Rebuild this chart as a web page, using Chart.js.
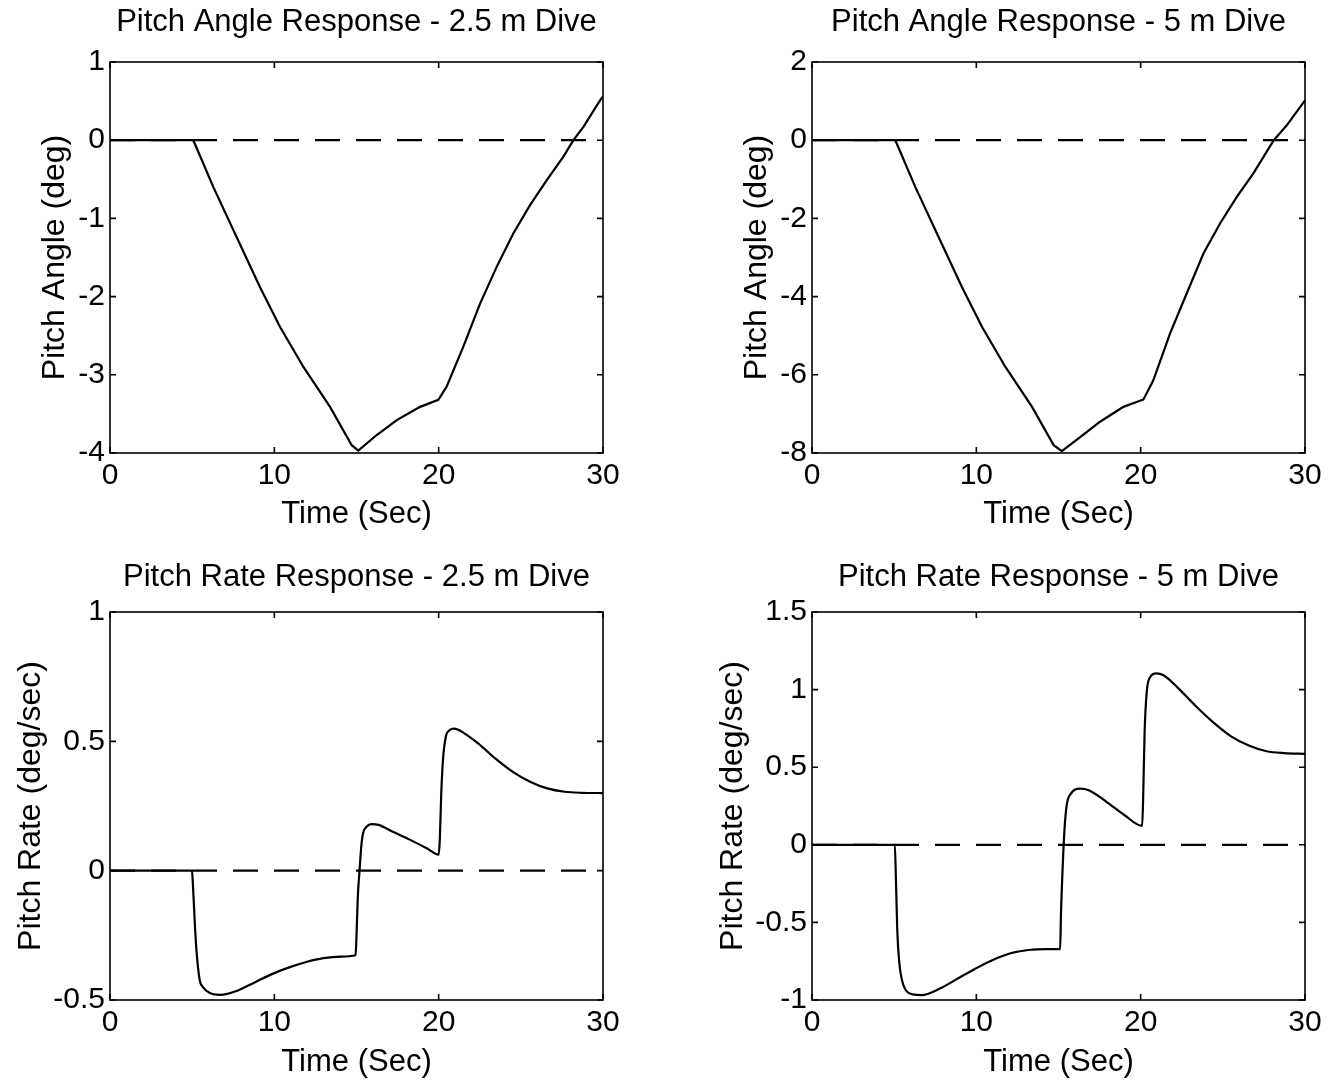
<!DOCTYPE html>
<html>
<head>
  <meta charset="utf-8">
  <title>Pitch Response</title>
  <script src="https://cdn.jsdelivr.net/npm/chart.js@4.4.1/dist/chart.umd.min.js"></script>
  <style>
    body { margin: 0; background: #ffffff; width: 1338px; height: 1083px; position: relative; overflow: hidden; }
    canvas { position: absolute; }
  </style>
</head>
<body>
  <canvas id="c1" width="669" height="541" style="left:0; top:0;"></canvas>
  <canvas id="c2" width="636" height="541" style="left:702px; top:0;"></canvas>
  <canvas id="c3" width="669" height="542" style="left:0; top:541px;"></canvas>
  <canvas id="c4" width="636" height="542" style="left:702px; top:541px;"></canvas>

  <script>
    // time axis
    let timeTicks = [0, 10, 20, 30];

    // reference line
    let zeroT = [0, 30];
    let zeroV = [0, 0];

    // pitch angle, 2.5 m dive
    let angle25T = [0, 5.07, 6.29, 7.71, 9.13, 10.35, 11.77, 13.39, 14.71, 15.11, 16.23, 17.45, 18.87, 19.98, 20.49, 21.5, 22.52, 23.53, 24.55, 25.56, 26.58, 27.59, 28.2, 28.81, 29.82, 30];
    let angle25V = [0, 0, -0.6, -1.24, -1.88, -2.39, -2.9, -3.41, -3.9, -3.97, -3.77, -3.58, -3.41, -3.32, -3.15, -2.64, -2.09, -1.62, -1.19, -0.83, -0.51, -0.21, 0, 0.17, 0.51, 0.56];
    let angle25Ticks = [-4, -3, -2, -1, 0, 1];

    // pitch angle, 5 m dive
    let angle5T = [0, 5.07, 6.29, 7.71, 9.13, 10.35, 11.77, 13.39, 14.71, 15.2, 16.3, 17.53, 18.95, 20.17, 20.77, 21.79, 22.8, 23.82, 24.83, 25.85, 26.86, 28.1, 28.89, 30];
    let angle5V = [0, 0, -1.2, -2.48, -3.76, -4.78, -5.8, -6.82, -7.8, -7.95, -7.6, -7.2, -6.82, -6.63, -6.14, -4.94, -3.92, -2.9, -2.13, -1.45, -0.85, 0, 0.38, 1.02];
    let angle5Ticks = [-8, -6, -4, -2, 0, 2];

    // pitch rate, 2.5 m dive
    let rate25T = [0, 4.99, 5.03, 5.13, 5.24, 5.45, 5.66, 6.08, 6.7, 7.75, 8.8, 9.85, 10.9, 11.94, 12.99, 14.04, 14.94,
      14.98, 15.08, 15.19, 15.29, 15.4, 15.61, 15.92, 16.34, 17.18, 18.23, 19.27, 20.0,
      20.07, 20.15, 20.26, 20.43, 20.64, 20.95, 21.58, 22.42, 23.46, 24.51, 25.56, 26.61, 27.66, 28.7, 30];
    let rate25V = [0, 0, -0.035, -0.163, -0.29, -0.42, -0.45, -0.473, -0.48, -0.464, -0.432, -0.4, -0.374, -0.353, -0.338, -0.332, -0.327,
      -0.29, -0.1, 0.004, 0.094, 0.145, 0.17, 0.18, 0.177, 0.151, 0.12, 0.087, 0.062,
      0.12, 0.286, 0.427, 0.517, 0.542, 0.549, 0.53, 0.491, 0.433, 0.382, 0.344, 0.318, 0.305, 0.301, 0.3];
    let rate25Ticks = [-0.5, 0, 0.5, 1];

    // pitch rate, 5 m dive
    let rate5T = [0, 5.04, 5.11, 5.19, 5.32, 5.48, 5.69, 6.13, 6.67, 7.75, 8.83, 9.91, 11.0, 12.08, 13.16, 14.24, 15.1,
      15.15, 15.26, 15.37, 15.5, 15.76, 16.3, 16.84, 17.92, 19.0, 20.09,
      20.15, 20.24, 20.37, 20.58, 20.95, 21.39, 22.25, 23.33, 24.42, 25.5, 26.58, 27.66, 28.74, 30];
    let rate5V = [0, 0, -0.235, -0.554, -0.768, -0.874, -0.934, -0.964, -0.968, -0.928, -0.864, -0.8, -0.742, -0.699, -0.678, -0.672, -0.672,
      -0.448, -0.128, 0.107, 0.256, 0.33, 0.362, 0.352, 0.277, 0.192, 0.122,
      0.298, 0.725, 0.985, 1.081, 1.104, 1.092, 1.013, 0.896, 0.789, 0.699, 0.64, 0.603, 0.591, 0.586];
    let rate5Ticks = [-1, -0.5, 0, 0.5, 1, 1.5];

    const FONT = "'Liberation Sans', Arial, Helvetica, sans-serif";
    const TS = 31;   // titles
    const YS = 32;   // y axis titles
    const LS = 30;   // tick labels

    function pts(t, v) {
      return t.map((x, i) => ({x: x, y: v[i]}));
    }

    // box around the plot with MATLAB style inward ticks
    const frame = {
      id: 'frame',
      afterDatasetsDraw(chart) {
        const {ctx, chartArea: a, scales: {x, y}} = chart;
        const len = 6;
        ctx.save();
        ctx.strokeStyle = '#000';
        ctx.lineWidth = 1.6;
        ctx.strokeRect(a.left, a.top, a.right - a.left, a.bottom - a.top);
        ctx.beginPath();
        x.ticks.forEach(t => {
          let px = x.getPixelForValue(t.value);
          ctx.moveTo(px, a.bottom); ctx.lineTo(px, a.bottom - len);
          ctx.moveTo(px, a.top); ctx.lineTo(px, a.top + len);
        });
        y.ticks.forEach(t => {
          let py = y.getPixelForValue(t.value);
          ctx.moveTo(a.left, py); ctx.lineTo(a.left + len, py);
          ctx.moveTo(a.right, py); ctx.lineTo(a.right - len, py);
        });
        ctx.stroke();
        ctx.restore();
      }
    };

    function makeChart(id, o) {
      let lh = TS * 1.2;
      let ylh = YS * 1.2;
      new Chart(document.getElementById(id), {
        type: 'scatter',
        data: {
          datasets: [
            {
              data: pts(o.t, o.v),
              showLine: true,
              borderColor: '#000',
              borderWidth: 2.2,
              pointRadius: 0,
              tension: 0,
              cubicInterpolationMode: o.smooth ? 'monotone' : 'default'
            },
            {
              data: pts(zeroT, zeroV),
              showLine: true,
              borderColor: '#000',
              borderWidth: 2.2,
              borderDash: [25, 16],
              pointRadius: 0
            }
          ]
        },
        options: {
          responsive: false,
          animation: false,
          devicePixelRatio: 1,
          layout: { padding: { left: 0, right: o.padRight, top: 0, bottom: 0 } },
          plugins: {
            legend: { display: false },
            tooltip: { enabled: false },
            title: {
              display: true,
              fullSize: false,
              text: o.title,
              color: '#000',
              font: { family: FONT, size: TS, weight: 'normal' },
              padding: { top: o.titleY - lh / 2, bottom: o.plotTop - o.titleY - lh / 2 }
            }
          },
          scales: {
            x: {
              type: 'linear',
              min: 0, max: 30,
              grid: { display: false, drawTicks: false },
              border: { display: false },
              afterBuildTicks: s => { s.ticks = timeTicks.map(v => ({value: v})); },
              afterFit: s => { s.height = o.xBox; },
              ticks: { color: '#000', padding: 5, maxRotation: 0, font: { family: FONT, size: LS },
                callback: v => String(v) },
              title: {
                display: true,
                text: 'Time (Sec)',
                color: '#000',
                font: { family: FONT, size: TS },
                padding: { top: 0, bottom: o.xTitleFromBottom - lh / 2 }
              }
            },
            y: {
              type: 'linear',
              min: o.ticks[0], max: o.ticks[o.ticks.length - 1],
              grid: { display: false, drawTicks: false },
              border: { display: false },
              afterBuildTicks: s => { s.ticks = o.ticks.map(v => ({value: v})); },
              afterFit: s => { s.width = 110; },
              ticks: { color: '#000', padding: 5, font: { family: FONT, size: LS },
                callback: v => String(v) },
              title: {
                display: true,
                text: o.yLabel,
                color: '#000',
                font: { family: FONT, size: YS },
                padding: { top: o.yTitleX - ylh / 2, bottom: 0 }
              }
            }
          }
        },
        plugins: [frame]
      });
    }

    makeChart('c1', { t: angle25T, v: angle25V, ticks: angle25Ticks, smooth: false,
      title: 'Pitch Angle Response - 2.5 m Dive', yLabel: 'Pitch Angle (deg)',
      titleY: 22, plotTop: 62, xBox: 88, xTitleFromBottom: 27, yTitleX: 55, padRight: 66 });
    makeChart('c2', { t: angle5T, v: angle5V, ticks: angle5Ticks, smooth: false,
      title: 'Pitch Angle Response - 5 m Dive', yLabel: 'Pitch Angle (deg)',
      titleY: 22, plotTop: 62, xBox: 88, xTitleFromBottom: 27, yTitleX: 55, padRight: 33 });
    makeChart('c3', { t: rate25T, v: rate25V, ticks: rate25Ticks, smooth: true,
      title: 'Pitch Rate Response - 2.5 m Dive', yLabel: 'Pitch Rate (deg/sec)',
      titleY: 36, plotTop: 71, xBox: 83, xTitleFromBottom: 21, yTitleX: 31, padRight: 66 });
    makeChart('c4', { t: rate5T, v: rate5V, ticks: rate5Ticks, smooth: true,
      title: 'Pitch Rate Response - 5 m Dive', yLabel: 'Pitch Rate (deg/sec)',
      titleY: 36, plotTop: 71, xBox: 83, xTitleFromBottom: 21, yTitleX: 31, padRight: 33 });
  </script>
</body>
</html>
